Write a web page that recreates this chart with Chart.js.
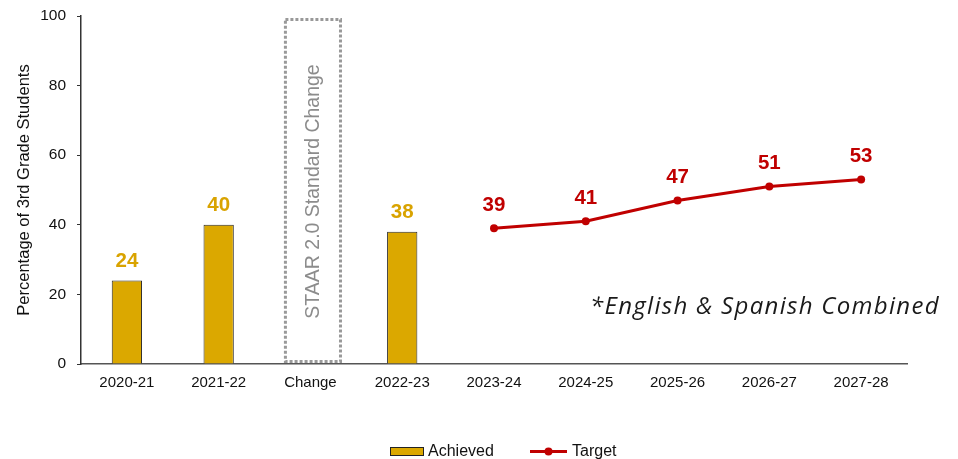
<!DOCTYPE html>
<html>
<head>
<meta charset="utf-8">
<script src="https://cdn.jsdelivr.net/npm/chart.js@4"></script>
<style>
  html, body { margin: 0; padding: 0; background: #fff; }
  #wrap { width: 958px; height: 459px; position: relative; }
</style>
</head>
<body>
<div id="wrap"><canvas id="c" width="958" height="459"></canvas></div>
<script>
// School years on the x axis
const categories = ['2020-21', '2021-22', 'Change', '2022-23', '2023-24', '2024-25', '2025-26', '2026-27', '2027-28'];
// Percent of 3rd grade students meeting the standard
const achieved = [24, 40, null, 38, null, null, null, null, null];
const target = [null, null, null, null, 39, 41, 47, 51, 53];
// Dotted marker box for the STAAR 2.0 standard change
const changeBox = [null, null, 99, null, null, null, null, null, null];
const changeText = 'STAAR 2.0 Standard Change';
const yTicks = [0, 20, 40, 60, 80, 100];
const noteText = '*English & Spanish Combined';

const GOLD = '#DBA800';
const GOLD_TEXT = '#D9A300';
const RED = '#C00000';
const SANS = '"Liberation Sans", Arial, sans-serif';

const overlay = {
  id: 'overlay',
  afterDatasetsDraw(chart) {
    const ctx = chart.ctx;

    // dotted "standard change" box + rotated caption
    const boxMeta = chart.getDatasetMeta(2);
    boxMeta.data.forEach((el, i) => {
      if (changeBox[i] == null) return;
      const cx = el.x + 2.5;
      const left = cx - el.width / 2, right = cx + el.width / 2;
      const top = el.y, bottom = el.base - 2;
      ctx.save();
      ctx.strokeStyle = '#999999';
      ctx.lineWidth = 3;
      ctx.setLineDash([3, 2]);
      ctx.strokeRect(left, top, right - left, bottom - top);
      ctx.restore();
      ctx.save();
      ctx.translate(cx + 1, (top + bottom) / 2 + 1);
      ctx.rotate(-Math.PI / 2);
      ctx.fillStyle = '#8C8C8C';
      ctx.font = '19.5px ' + SANS;
      ctx.textAlign = 'center';
      ctx.textBaseline = 'middle';
      ctx.fillText(changeText, 0, 0);
      ctx.restore();
    });

    // value labels
    ctx.save();
    ctx.font = 'bold 20.5px ' + SANS;
    ctx.textAlign = 'center';
    ctx.textBaseline = 'middle';
    chart.getDatasetMeta(0).data.forEach((el, i) => {
      if (achieved[i] == null) return;
      ctx.fillStyle = GOLD_TEXT;
      ctx.fillText(String(achieved[i]), el.x, el.y - 19);
    });
    chart.getDatasetMeta(1).data.forEach((el, i) => {
      if (target[i] == null) return;
      ctx.fillStyle = RED;
      ctx.fillText(String(target[i]), el.x, el.y - 23);
    });
    ctx.restore();

    // footnote
    ctx.save();
    ctx.fillStyle = '#1a1a1a';
    ctx.font = 'italic 24px "Open Sans", sans-serif';
    ctx.letterSpacing = '1.3px';
    ctx.textAlign = 'left';
    ctx.textBaseline = 'middle';
    ctx.fillText(noteText, 590, 307);
    ctx.letterSpacing = '0px';
    ctx.restore();

    // legend
    ctx.save();
    ctx.fillStyle = GOLD;
    ctx.strokeStyle = '#222';
    ctx.lineWidth = 1;
    ctx.fillRect(390.5, 447.5, 33, 8);
    ctx.strokeRect(390.5, 447.5, 33, 8);
    ctx.strokeStyle = RED;
    ctx.lineWidth = 3;
    ctx.beginPath();
    ctx.moveTo(530, 451.5);
    ctx.lineTo(567, 451.5);
    ctx.stroke();
    ctx.fillStyle = RED;
    ctx.beginPath();
    ctx.arc(548.5, 451.5, 4, 0, Math.PI * 2);
    ctx.fill();
    ctx.fillStyle = '#111';
    ctx.font = '16px ' + SANS;
    ctx.textBaseline = 'middle';
    ctx.textAlign = 'left';
    ctx.fillText('Achieved', 428, 452);
    ctx.fillText('Target', 572, 452);
    ctx.restore();
  }
};

new Chart(document.getElementById('c'), {
  type: 'bar',
  data: {
    labels: categories,
    datasets: [
      {
        type: 'bar', label: 'Achieved', data: achieved,
        backgroundColor: GOLD, borderColor: '#2a2a2a', borderWidth: 1,
        grouped: false, categoryPercentage: 1, barPercentage: 0.33, order: 2
      },
      {
        type: 'line', label: 'Target', data: target,
        borderColor: RED, backgroundColor: RED, borderWidth: 3,
        pointRadius: 4, pointBackgroundColor: RED, pointBorderWidth: 0,
        spanGaps: false, tension: 0, order: 1
      },
      {
        type: 'bar', label: changeText, data: changeBox,
        backgroundColor: 'rgba(0,0,0,0)', borderWidth: 0,
        grouped: false, categoryPercentage: 1, barPercentage: 0.6, order: 3
      }
    ]
  },
  options: {
    responsive: false,
    animation: false,
    layout: { padding: { left: 0, right: 51, top: 16, bottom: 0 } },
    plugins: { legend: { display: false }, tooltip: { enabled: false } },
    scales: {
      x: {
        grid: { display: false, drawTicks: false },
        border: { display: true, color: '#555', width: 1.5 },
        ticks: { color: '#111', font: { size: 15, family: SANS }, padding: 10 },
        afterFit(s) { s.height = 95; }
      },
      y: {
        min: 0, max: 100,
        afterBuildTicks(s) { s.ticks = yTicks.map(v => ({ value: v })); },
        grid: { drawOnChartArea: false, drawTicks: true, tickLength: 4, color: '#333' },
        border: { display: true, color: '#333', width: 1.5 },
        ticks: { color: '#111', font: { size: 15.5, family: SANS }, padding: 11 },
        title: {
          display: true, text: 'Percentage of 3rd Grade Students', color: '#111',
          font: { size: 16.5, family: SANS }, padding: { top: 15, bottom: 4 }
        },
        afterFit(s) { s.width = 81; s.paddingTop = 9; s.paddingBottom = 9; }
      }
    }
  },
  plugins: [overlay]
});
</script>
</body>
</html>
